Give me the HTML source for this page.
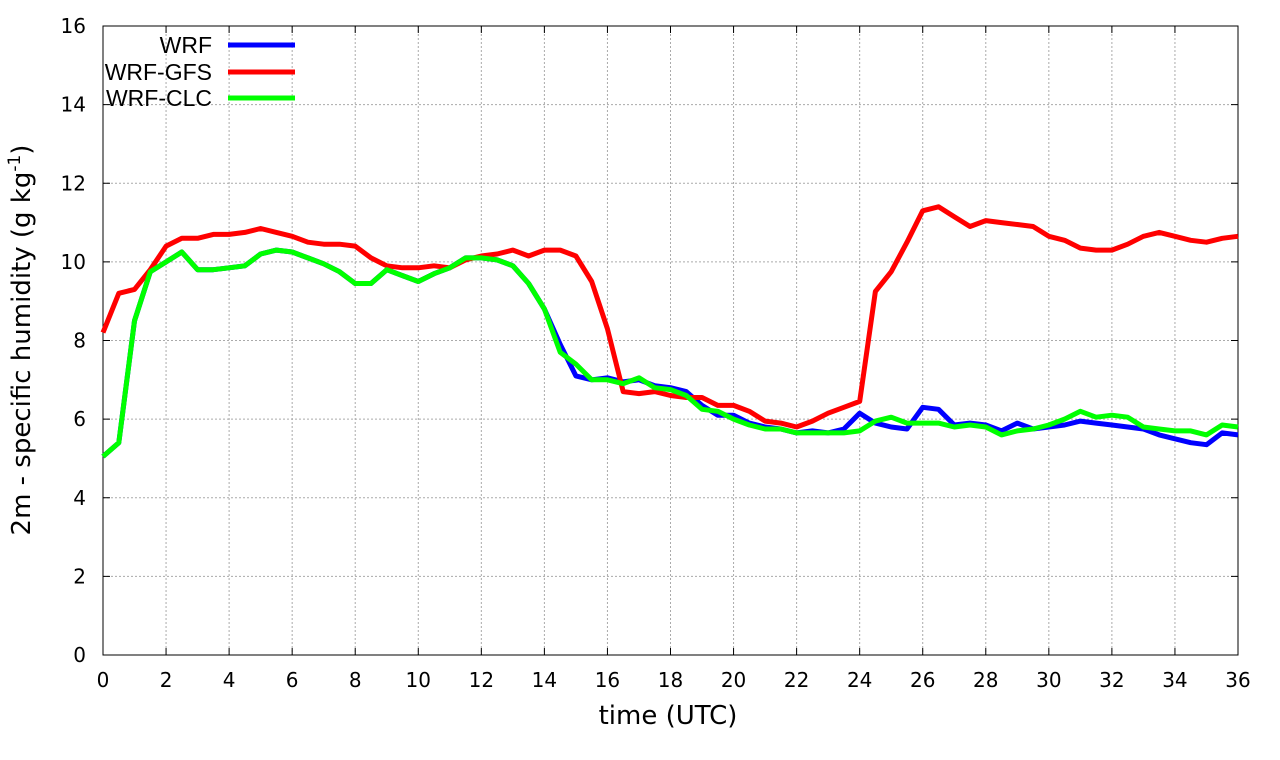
<!DOCTYPE html>
<html><head><meta charset="utf-8"><style>
html,body{margin:0;padding:0;background:#fff;}
svg{display:block;font-family:"DejaVu Sans",sans-serif;}
</style></head><body>
<svg id="s" width="1280" height="760" xmlns="http://www.w3.org/2000/svg"></svg>
<script>
const s=document.getElementById('s');
const X0=103,X1=1238,Y0=655,Y1=26;
const fx=h=>X0+(X1-X0)*h/36, fy=v=>Y0-(Y0-Y1)*v/16;
let o='';
for(let h=0;h<=36;h+=2){const x=fx(h);
 if(h>0&&h<36)o+=`<line x1="${x}" y1="${Y1}" x2="${x}" y2="${Y0}" stroke="#aaa" stroke-width="1" stroke-dasharray="2,2"/>`;
 o+=`<line x1="${x}" y1="${Y0}" x2="${x}" y2="${Y0-7}" stroke="#000"/><line x1="${x}" y1="${Y1}" x2="${x}" y2="${Y1+7}" stroke="#000"/>`;
 o+=`<text x="${x}" y="${Y0+32}" font-size="20" text-anchor="middle">${h}</text>`;}
for(let v=0;v<=16;v+=2){const y=fy(v);
 if(v>0&&v<16)o+=`<line x1="${X0}" y1="${y}" x2="${X1}" y2="${y}" stroke="#aaa" stroke-width="1" stroke-dasharray="2,2"/>`;
 o+=`<line x1="${X0}" y1="${y}" x2="${X0+7}" y2="${y}" stroke="#000"/><line x1="${X1}" y1="${y}" x2="${X1-7}" y2="${y}" stroke="#000"/>`;
 o+=`<text x="${X0-17}" y="${y+7}" font-size="20" text-anchor="end">${v}</text>`;}
o+=`<rect x="${X0}" y="${Y1}" width="${X1-X0}" height="${Y0-Y1}" fill="none" stroke="#000"/>`;
const blue=[5.05,5.4,8.5,9.75,10.0,10.25,9.8,9.8,9.85,9.9,10.2,10.3,10.25,10.1,9.95,9.75,9.45,9.45,9.8,9.65,9.5,9.7,9.85,10.1,10.1,10.05,9.9,9.45,8.8,7.9,7.1,7.0,7.05,6.95,7.0,6.85,6.8,6.7,6.35,6.1,6.1,5.9,5.8,5.75,5.65,5.7,5.65,5.75,6.15,5.9,5.8,5.75,6.3,6.25,5.85,5.9,5.85,5.7,5.9,5.75,5.8,5.85,5.95,5.9,5.85,5.8,5.75,5.6,5.5,5.4,5.35,5.65,5.6];
const red=[8.2,9.2,9.3,9.8,10.4,10.6,10.6,10.7,10.7,10.75,10.85,10.75,10.65,10.5,10.45,10.45,10.4,10.1,9.9,9.85,9.85,9.9,9.85,10.05,10.15,10.2,10.3,10.15,10.3,10.3,10.15,9.5,8.3,6.7,6.65,6.7,6.6,6.55,6.55,6.35,6.35,6.2,5.95,5.9,5.8,5.95,6.15,6.3,6.45,9.25,9.75,10.5,11.3,11.4,11.15,10.9,11.05,11.0,10.95,10.9,10.65,10.55,10.35,10.3,10.3,10.45,10.65,10.75,10.65,10.55,10.5,10.6,10.65];
const green=blue.slice(0,29).concat([7.7,7.4,7.0,7.0,6.9,7.05,6.8,6.75,6.6,6.25,6.2,6.0,5.85,5.75,5.75,5.65,5.65,5.65,5.65,5.7,5.95,6.05,5.9,5.9,5.9,5.8,5.85,5.8,5.6,5.7,5.75,5.85,6.0,6.2,6.05,6.1,6.05,5.8,5.75,5.7,5.7,5.6,5.85,5.8]);
const line=(d,c)=>`<polyline fill="none" stroke="${c}" stroke-width="5" stroke-linejoin="round" points="${d.map((v,i)=>fx(i*0.5).toFixed(1)+','+fy(v).toFixed(1)).join(' ')}"/>`;
o+=line(blue,'#0000ff')+line(red,'#ff0000')+line(green,'#00ff00');
[['WRF','#0000ff',45],['WRF-GFS','#ff0000',72],['WRF-CLC','#00ff00',98]].forEach(([t,c,y])=>{
 o+=`<text x="212" y="${y+8}" font-size="23" font-family="Liberation Sans, sans-serif" text-anchor="end">${t}</text><line x1="228" y1="${y}" x2="295" y2="${y}" stroke="${c}" stroke-width="5"/>`;});
o+=`<text x="668" y="724" font-size="26" text-anchor="middle">time (UTC)</text>`;
o+=`<text transform="translate(30,340) rotate(-90)" font-size="26" text-anchor="middle">2m - specific humidity (g kg<tspan dy="-10" font-size="17">-1</tspan><tspan dy="10">)</tspan></text>`;
s.innerHTML=o;
</script>
</body></html>
